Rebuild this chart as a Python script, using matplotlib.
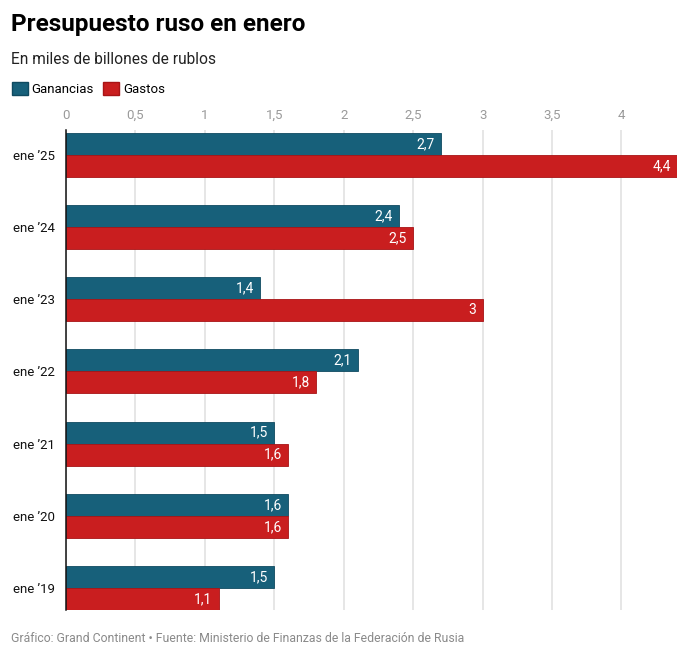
import matplotlib
matplotlib.use("Agg")
import matplotlib.pyplot as plt
from matplotlib.patches import Patch

categories = ["ene \u201925", "ene \u201924", "ene \u201923", "ene \u201922", "ene \u201921", "ene \u201920", "ene \u201919"]
ganancias = [2.7, 2.4, 1.4, 2.1, 1.5, 1.6, 1.5]
gastos = [4.4, 2.5, 3.0, 1.8, 1.6, 1.6, 1.1]
xticks = [0, 0.5, 1, 1.5, 2, 2.5, 3, 3.5, 4]

C_GAN = "#17607a"
C_GAS = "#c91e1f"

plt.rcParams['font.family'] = ['Roboto', 'DejaVu Sans']

W, H = 689, 659
fig = plt.figure(figsize=(W / 100, H / 100), dpi=100)
ax = fig.add_axes([66 / W, 1 - 610 / H, (677 - 66) / W, (610 - 130) / H])

bh = 0.305
ys = list(range(len(categories)))
y_gan = [y - bh / 2 for y in ys]
y_gas = [y + bh / 2 for y in ys]
ax.barh(y_gan, ganancias, height=bh, color=C_GAN, edgecolor="#0f4a60", linewidth=0.6, zorder=3)
ax.barh(y_gas, gastos, height=bh, color=C_GAS, edgecolor="#a81416", linewidth=0.6, zorder=3)

def fmt(v):
    s = ("%.1f" % v).rstrip("0").rstrip(".")
    return s.replace(".", ",")

for y, v in zip(y_gan, ganancias):
    ax.annotate(fmt(v), (v, y), xytext=(-4.5, 0), textcoords="offset points",
                ha="right", va="center", color="white", fontsize=10, zorder=4)
for y, v in zip(y_gas, gastos):
    ax.annotate(fmt(v), (v, y), xytext=(-4.5, 0), textcoords="offset points",
                ha="right", va="center", color="white", fontsize=10, zorder=4)

ax.set_xlim(0, 4.4)
ax.set_ylim(len(categories) - 1 + 0.305, -0.346)
ax.set_xticks(xticks)
ax.set_xticklabels([fmt(t) for t in xticks])
ax.xaxis.tick_top()
ax.tick_params(axis="x", length=0, pad=6, labelsize=9.5, labelcolor="#9a9a9a")
ax.set_yticks(ys)
ax.set_yticklabels(categories)
ax.tick_params(axis="y", length=0, pad=8, labelsize=9.5, labelcolor="#111111")
ax.grid(axis="x", color="#e2e2e2", linewidth=1.2, zorder=0)
ax.set_axisbelow(True)
for s in ["top", "right", "bottom"]:
    ax.spines[s].set_visible(False)
ax.spines["left"].set_color("#111111")
ax.spines["left"].set_linewidth(1.1)
ax.spines["left"].set_zorder(5)

fig.text(11 / W, 1 - 25 / H, "Presupuesto ruso en enero", fontsize=17.5, fontweight="bold",
         va="center", ha="left", color="#000000")
fig.text(11 / W, 1 - 59 / H, "En miles de billones de rublos", fontsize=11.2,
         va="center", ha="left", color="#222222")

handles = [Patch(facecolor=C_GAN, edgecolor="#0f4a60", label="Ganancias"),
           Patch(facecolor=C_GAS, edgecolor="#a81416", label="Gastos")]
fig.legend(handles=handles, loc="center left", bbox_to_anchor=(8 / W, 1 - 89 / H), ncol=2,
           frameon=False, fontsize=9.5, handlelength=1.2, handleheight=1.2,
           handletextpad=0.3, columnspacing=0.7, borderaxespad=0, borderpad=0.3)

fig.text(11 / W, 1 - 638 / H, "Gráfico: Grand Continent \u2022 Fuente: Ministerio de Finanzas de la Federación de Rusia",
         fontsize=8.8, va="center", ha="left", color="#8a8a8a")

fig.savefig("out.png", dpi=100, facecolor="white")
